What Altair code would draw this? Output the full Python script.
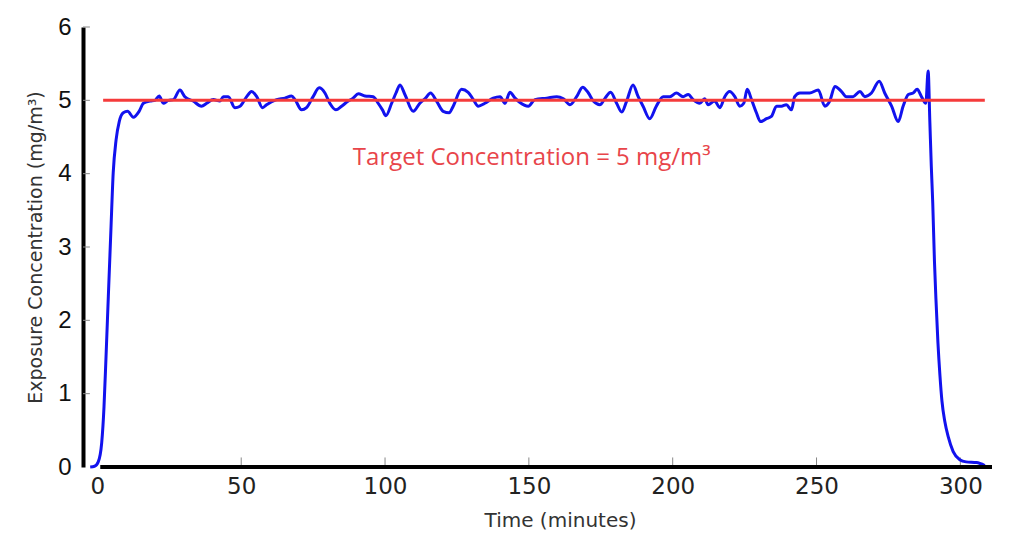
import altair as alt
import pandas as pd

# Measured series: time (minutes) and exposure concentration (mg/m3)
time_min = [-2.5, -1.0, 0.3, 1.5, 2.3, 3.0, 3.8, 4.7, 5.5, 6.5, 7.6, 9.0, 10.5, 12.5, 14.5,
            16.0, 18.3, 20.0, 21.5, 22.9, 24.7, 26.4, 28.7, 30.4, 33.3, 36.2, 38.0, 40.3,
            42.6, 43.8, 45.5, 47.8, 49.6, 51.9, 53.6, 55.4, 57.4, 58.8, 62.3, 65.2, 67.5,
            68.7, 71.0, 72.7, 75.0, 77.1, 79.1, 80.8, 82.9, 84.9, 87.2, 88.9, 90.7, 93.0,
            95.9, 97.6, 99.1, 100.3, 102.3, 103.8, 105.2, 106.9, 109.8, 112.1, 114.1, 115.8,
            117.9, 120.2, 122.3, 123.7, 126.6, 128.9, 130.7, 132.4, 134.7, 137.6, 140.0,
            141.7, 143.4, 145.2, 146.9, 149.8, 152.1, 156.2, 159.7, 162.0, 164.3, 166.6,
            168.7, 170.7, 172.4, 174.7, 176.5, 178.4, 180.5, 182.3, 184.0, 186.2, 188.0,
            189.7, 192.0, 194.3, 196.7, 199.0, 201.3, 203.6, 205.4, 207.1, 209.4, 211.1,
            212.3, 214.6, 216.4, 218.1, 219.8, 221.6, 223.3, 224.7, 225.9, 227.4, 229.1,
            230.5, 232.6, 234.3, 236.1, 237.8, 239.5, 241.3, 242.4, 244.2, 247.6, 250.6,
            252.9, 254.6, 256.4, 258.7, 260.4, 262.7, 265.1, 266.8, 269.1, 271.8, 273.7,
            276.1, 278.4, 280.1, 281.9, 283.6, 285.0, 286.5, 288.0, 288.8, 289.4, 289.9,
            290.4, 291.0, 291.5, 292.2, 292.9, 293.6, 294.6, 295.8, 297.5, 299.8, 302.0,
            305.6, 308.5]
concentration = [0.0, 0.01, 0.07, 0.33, 0.82, 1.5, 2.32, 3.23, 4.01, 4.46, 4.71, 4.83, 4.85,
                 4.77, 4.85, 4.96, 4.99, 5.0, 5.06, 4.96, 5.0, 5.01, 5.14, 5.05, 4.99, 4.92,
                 4.96, 5.01, 4.99, 5.05, 5.05, 4.9, 4.92, 5.05, 5.12, 5.05, 4.9, 4.94, 5.01,
                 5.03, 5.06, 5.01, 4.87, 4.9, 5.05, 5.17, 5.1, 4.96, 4.87, 4.92, 4.99, 5.03,
                 5.09, 5.06, 5.05, 4.96, 4.87, 4.79, 4.96, 5.1, 5.21, 5.08, 4.85, 4.96, 5.03,
                 5.1, 4.99, 4.85, 4.83, 4.92, 5.15, 5.11, 5.01, 4.92, 4.96, 5.03, 5.05, 4.96,
                 5.11, 5.03, 4.97, 4.92, 5.01, 5.03, 5.05, 5.02, 4.94, 5.05, 5.18, 5.1, 4.99,
                 4.94, 5.03, 5.11, 4.96, 4.84, 4.99, 5.21, 5.05, 4.92, 4.75, 4.92, 5.05, 5.05,
                 5.1, 5.05, 5.08, 5.01, 4.96, 5.02, 4.94, 4.99, 4.9, 5.05, 5.12, 5.05, 4.92,
                 4.96, 5.15, 5.01, 4.83, 4.71, 4.75, 4.78, 4.92, 4.92, 4.94, 4.87, 5.05, 5.1,
                 5.1, 5.14, 4.92, 4.99, 5.19, 5.12, 5.05, 5.05, 5.12, 5.05, 5.1, 5.26, 5.1,
                 4.92, 4.71, 4.92, 5.08, 5.1, 5.15, 5.05, 4.96, 5.4, 4.7, 4.1, 3.6, 2.8, 2.3,
                 1.7, 1.25, 0.9, 0.62, 0.41, 0.21, 0.1, 0.07, 0.06, 0.02]

# Target line and annotation
target_value = 5
target_start = 2
target_end = 308.5
label_text = "Target Concentration = 5 mg/m\u00b3"
label_time = 151
label_value = 4.22

# Axis ticks
x_ticks = [0, 50, 100, 150, 200, 250, 300]
y_ticks = [0, 1, 2, 3, 4, 5, 6]
x_min, x_max = -5, 311
y_min, y_max = 0, 6
x_axis_start = 1

series = pd.DataFrame({"t": time_min, "c": concentration})

xscale = alt.Scale(domain=[x_min, x_max], nice=False, zero=False)
yscale = alt.Scale(domain=[y_min, y_max], nice=False)

xaxis = alt.Axis(values=x_ticks, format="d", title="Time (minutes)", domain=False, ticks=False,
                 grid=False, labelFont="DejaVu Sans", labelFontSize=23, labelColor="#222222",
                 labelPadding=8, titleFont="DejaVu Sans", titleFontSize=20,
                 titleFontWeight="normal", titleColor="#333333", titlePadding=12,
                 titleX=477)
yaxis = alt.Axis(values=y_ticks, format="d", title="Exposure Concentration (mg/m\u00b3)",
                 domain=True, domainColor="black", domainWidth=4, ticks=False, grid=False,
                 labelFont="Liberation Sans", labelFontSize=24, labelColor="#111111",
                 labelPadding=12, titleFont="DejaVu Sans", titleFontSize=19,
                 titleFontWeight="normal", titleColor="#333333", titlePadding=12)

line = alt.Chart(series).mark_line(color="#1212ee", strokeWidth=3, interpolate="monotone").encode(
    x=alt.X("t:Q", scale=xscale, axis=xaxis),
    y=alt.Y("c:Q", scale=yscale, axis=yaxis),
)

base_axis = alt.Chart(pd.DataFrame({"a": [x_axis_start], "b": [x_max], "y": [y_min]})).mark_rule(
    color="black", strokeWidth=4).encode(x="a:Q", x2="b:Q", y="y:Q")

xt = pd.DataFrame({"t": x_ticks[1:], "y0": [0] * 6, "y1": [0.13] * 6})
x_tick_marks = alt.Chart(xt).mark_rule(color="#888888", strokeWidth=1).encode(
    x="t:Q", y="y0:Q", y2="y1:Q")

yt = pd.DataFrame({"v": y_ticks[1:], "x0": [x_min] * 6, "x1": [x_min + 2.4] * 6})
y_tick_marks = alt.Chart(yt).mark_rule(color="#888888", strokeWidth=1).encode(
    y="v:Q", x="x0:Q", x2="x1:Q")

target = alt.Chart(pd.DataFrame({"a": [target_start], "b": [target_end], "v": [target_value]})).mark_rule(
    color="#f53b3b", strokeWidth=3).encode(x="a:Q", x2="b:Q", y="v:Q")

label = alt.Chart(pd.DataFrame({"t": [label_time], "v": [label_value], "s": [label_text]})).mark_text(
    font="Open Sans", fontSize=24, color="#e8454a", align="center", baseline="middle").encode(
    x="t:Q", y="v:Q", text="s:N")

chart = alt.layer(x_tick_marks, y_tick_marks, line, target, base_axis, label).properties(
    width=909, height=440,
    background="white",
    autosize=alt.AutoSizeParams(type="none"),
    padding={"left": 75, "top": 19, "right": 24, "bottom": 76},
).configure_view(strokeWidth=0, stroke="transparent")

chart.save("out.html", embed_options={"renderer": "svg", "actions": False})
